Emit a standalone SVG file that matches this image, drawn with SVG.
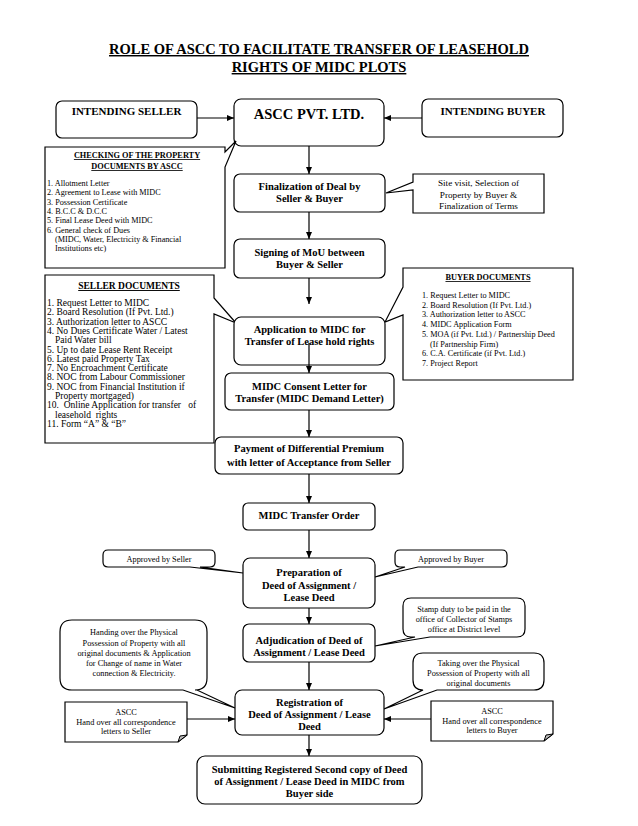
<svg xmlns="http://www.w3.org/2000/svg" width="638" height="826" viewBox="0 0 638 826">
<defs>
<marker id="ah" markerUnits="userSpaceOnUse" markerWidth="8" markerHeight="7" refX="7" refY="3" orient="auto"><path d="M0,0 L7,3 L0,6 Z" fill="#000"/></marker>
</defs>
<style>
.bx{fill:#fff;stroke:#000;stroke-width:1.2}
.ln{stroke:#000;stroke-width:1.2;fill:none}
.ar{stroke:#000;stroke-width:1.2;fill:none;marker-end:url(#ah)}
text{font-family:"Liberation Serif","Times New Roman",serif;fill:#000}
.t{font-size:14.5px;font-weight:bold;text-anchor:middle;text-decoration:underline}
.m{font-size:10.5px;font-weight:bold;text-anchor:middle}
.h{font-size:11px;font-weight:bold;text-anchor:middle}
.c{font-size:8.3px;text-anchor:middle}
.l{font-size:8.2px}
.ls{font-size:9.5px}
.hd{font-size:8.3px;font-weight:bold;text-anchor:middle;text-decoration:underline}
.fold{fill:#bbb;stroke:#000;stroke-width:1}
</style>
<rect width="638" height="826" fill="#fff"/>
<g id="title">
<text class="t" x="319" y="54">ROLE OF ASCC TO FACILITATE TRANSFER OF LEASEHOLD</text>
<text class="t" x="319" y="72">RIGHTS OF MIDC PLOTS</text>
</g>
<g id="connectors">
<line class="ar" x1="197" y1="118" x2="234" y2="118"/>
<line class="ar" x1="422" y1="118" x2="384" y2="118"/>
<line class="ar" x1="309" y1="146" x2="309" y2="174"/>
<line class="ar" x1="309" y1="212" x2="309" y2="239"/>
<line class="ar" x1="309" y1="278" x2="309" y2="304"/>
<line class="ar" x1="309" y1="410" x2="309" y2="437"/>
<line class="ar" x1="309" y1="474" x2="309" y2="503"/>
<line class="ar" x1="309" y1="530" x2="309" y2="558"/>
<line class="ar" x1="309" y1="608" x2="309" y2="624"/>
<line class="ar" x1="309" y1="662" x2="309" y2="690"/>
<line class="ar" x1="187" y1="719" x2="235" y2="719"/>
<line class="ar" x1="431" y1="719" x2="384" y2="719"/>
<line class="ar" x1="309" y1="735" x2="309" y2="756"/>
</g>
<g id="intending-seller">
<rect class="bx" x="56" y="101" width="141" height="37" rx="6"/>
<text class="h" x="126.5" y="115">INTENDING SELLER</text>
</g>
<g id="ascc">
<rect class="bx" x="234" y="99" width="150" height="47" rx="7"/>
<text class="m" x="309" y="119" style="font-size:14.5px">ASCC PVT. LTD.</text>
</g>
<g id="intending-buyer">
<rect class="bx" x="422" y="99" width="141" height="38" rx="6"/>
<text class="h" x="493" y="115">INTENDING BUYER</text>
</g>
<g id="checking">
<path class="bx" d="M45,147 H225 V152 L236,141 L225,167 V268 H45 Z"/>
<text class="hd" x="137" y="158">CHECKING OF THE PROPERTY</text>
<text class="hd" x="137" y="169">DOCUMENTS BY ASCC</text>
<g class="l">
<text x="47" y="186">1. Allotment Letter</text>
<text x="47" y="195.3">2. Agreement to Lease with MIDC</text>
<text x="47" y="204.6">3. Possession Certificate</text>
<text x="47" y="213.9">4. B.C.C &amp; D.C.C</text>
<text x="47" y="223.2">5. Final Lease Deed with MIDC</text>
<text x="47" y="232.5">6. General check of Dues</text>
<text x="55" y="241.8">(MIDC, Water, Electricity &amp; Financial</text>
<text x="55" y="251.1">Institutions etc)</text>
</g>
</g>
<g id="finalization">
<rect class="bx" x="234" y="174" width="151" height="38" rx="6"/>
<text class="m" x="309.5" y="190">Finalization of Deal by</text>
<text class="m" x="309.5" y="202">Seller &amp; Buyer</text>
</g>
<g id="site-visit">
<path class="bx" d="M413,174 H544 V213 H413 V190 L386,193 L413,182 Z"/>
<text class="c" x="478.5" y="186" style="font-size:9.2px">Site visit, Selection of</text>
<text class="c" x="478.5" y="197.5" style="font-size:9.2px">Property by Buyer &amp;</text>
<text class="c" x="478.5" y="209" style="font-size:9.2px">Finalization of Terms</text>
</g>
<g id="signing">
<rect class="bx" x="234" y="239" width="151" height="39" rx="6"/>
<text class="m" x="309.5" y="256">Signing of MoU between</text>
<text class="m" x="309.5" y="267.5">Buyer &amp; Seller</text>
</g>
<g id="seller-documents">
<path class="bx" d="M45,275 H214 V298 L236,323 L214,314 V443 H45 Z"/>
<text class="hd" x="129" y="289" style="font-size:9.5px">SELLER DOCUMENTS</text>
<g class="ls">
<text x="47" y="306">1. Request Letter to MIDC</text>
<text x="47" y="315.3">2. Board Resolution (If Pvt. Ltd.)</text>
<text x="47" y="324.6">3. Authorization letter to ASCC</text>
<text x="47" y="333.9">4. No Dues Certificate Water / Latest</text>
<text x="55" y="343.2">Paid Water bill</text>
<text x="47" y="352.5">5. Up to date Lease Rent Receipt</text>
<text x="47" y="361.8">6. Latest paid Property Tax</text>
<text x="47" y="371.1">7. No Encroachment Certificate</text>
<text x="47" y="380.4">8. NOC from Labour Commissioner</text>
<text x="47" y="389.7">9. NOC from Financial Institution if</text>
<text x="55" y="399">Property mortgaged)</text>
<text x="47" y="408.3" xml:space="preserve">10.  Online Application for transfer   of</text>
<text x="55" y="417.6" xml:space="preserve">leasehold  rights</text>
<text x="47" y="426.9">11.  Form “A” &amp; “B”</text>
</g>
</g>
<g id="buyer-documents">
<path class="bx" d="M403,268 H573 V380 H403 V315 L385,322 L403,287 Z"/>
<text class="hd" x="488" y="280">BUYER DOCUMENTS</text>
<g class="l">
<text x="422" y="298">1. Request Letter to MIDC</text>
<text x="422" y="307.7">2. Board Resolution (If Pvt. Ltd.)</text>
<text x="422" y="317.4">3. Authorization letter to ASCC</text>
<text x="422" y="327.1">4. MIDC Application Form</text>
<text x="422" y="336.8">5. MOA (if Pvt. Ltd.) / Partnership Deed</text>
<text x="430" y="346.5">(If Partnership Firm)</text>
<text x="422" y="356.2">6. C.A. Certificate (if Pvt. Ltd.)</text>
<text x="422" y="365.9">7. Project Report</text>
</g>
</g>
<g id="application">
<rect class="bx" x="234" y="317" width="151" height="48" rx="7"/>
<text class="m" x="309.5" y="333">Application to MIDC for</text>
<text class="m" x="309.5" y="345">Transfer of Lease hold rights</text>
<line class="ar" x1="309" y1="343" x2="309" y2="373"/>
</g>
<g id="consent">
<rect class="bx" x="225" y="373" width="169" height="37" rx="6"/>
<text class="m" x="309.5" y="390">MIDC Consent Letter for</text>
<text class="m" x="309.5" y="401.5">Transfer (MIDC Demand Letter)</text>
</g>
<g id="payment">
<rect class="bx" x="215" y="437" width="188" height="37" rx="6"/>
<text class="m" x="309" y="452">Payment of Differential Premium</text>
<text class="m" x="309" y="466">with letter of Acceptance from Seller</text>
</g>
<g id="transfer-order">
<rect class="bx" x="243" y="503" width="132" height="27" rx="5"/>
<text class="m" x="309" y="519">MIDC Transfer Order</text>
</g>
<g id="approved-seller">
<path class="bx" d="M108,550 H210 Q215,550 215,555 V562 Q215,567 210,567 H200 L243,573 L190,567 H108 Q103,567 103,562 V555 Q103,550 108,550 Z"/>
<text class="c" x="159" y="562">Approved by Seller</text>
</g>
<g id="approved-buyer">
<path class="bx" d="M400,550 H502 Q507,550 507,555 V562 Q507,567 502,567 H418 L375,577 L405,567 H400 Q395,567 395,562 V555 Q395,550 400,550 Z"/>
<text class="c" x="451" y="562">Approved by Buyer</text>
</g>
<g id="preparation">
<rect class="bx" x="243" y="558" width="132" height="50" rx="7"/>
<text class="m" x="309" y="576">Preparation of</text>
<text class="m" x="309" y="589">Deed of Assignment /</text>
<text class="m" x="309" y="601">Lease Deed</text>
</g>
<g id="stamp-duty">
<path class="bx" d="M411,598 H517 Q525,598 525,606 V629 Q525,637 517,637 H430 L375,646 L415,637 H411 Q403,637 403,629 V606 Q403,598 411,598 Z"/>
<text class="c" x="464" y="612">Stamp duty to be paid in the</text>
<text class="c" x="464" y="622">office of Collector of Stamps</text>
<text class="c" x="464" y="631.5">office at District level</text>
</g>
<g id="adjudication">
<rect class="bx" x="243" y="624" width="132" height="38" rx="6"/>
<text class="m" x="309" y="644">Adjudication of Deed of</text>
<text class="m" x="309" y="656">Assignment / Lease Deed</text>
</g>
<g id="handing-over">
<path class="bx" d="M72,620 H195 Q207,620 207,632 V678 Q207,690 195,690 H197 L235,708 L183,690 H72 Q60,690 60,678 V632 Q60,620 72,620 Z"/>
<text class="c" x="134" y="635">Handing over the Physical</text>
<text class="c" x="134" y="645.5">Possession of Property with all</text>
<text class="c" x="134" y="656">original documents &amp; Application</text>
<text class="c" x="134" y="666">for Change of name in Water</text>
<text class="c" x="134" y="676">connection &amp; Electricity.</text>
</g>
<g id="taking-over">
<path class="bx" d="M423,653 H534 Q544,653 544,663 V680 Q544,690 534,690 H437 L384,709 L423,690 Q413,690 413,680 V663 Q413,653 423,653 Z"/>
<text class="c" x="478.5" y="666">Taking over the Physical</text>
<text class="c" x="478.5" y="676">Possession of Property with all</text>
<text class="c" x="478.5" y="686">original documents</text>
</g>
<g id="registration">
<rect class="bx" x="235" y="690" width="149" height="45" rx="7"/>
<text class="m" x="309.5" y="705.5">Registration of</text>
<text class="m" x="309.5" y="718">Deed of Assignment / Lease</text>
<text class="m" x="309.5" y="730">Deed</text>
</g>
<g id="ascc-seller">
<path class="bx" d="M65,702 H187 V735 L178,742 H65 Z"/>
<path class="fold" d="M178,742 L180,736 L187,735 Z"/>
<text class="c" x="126" y="715">ASCC</text>
<text class="c" x="126" y="724.5">Hand over all correspondence</text>
<text class="c" x="126" y="734">letters to Seller</text>
</g>
<g id="ascc-buyer">
<path class="bx" d="M431,701 H553 V734 L544,741 H431 Z"/>
<path class="fold" d="M544,741 L546,735 L553,734 Z"/>
<text class="c" x="492" y="714">ASCC</text>
<text class="c" x="492" y="724">Hand over all correspondence</text>
<text class="c" x="492" y="733">letters to Buyer</text>
</g>
<g id="submitting">
<rect class="bx" x="197" y="756" width="225" height="48" rx="8"/>
<text class="m" x="309.5" y="773">Submitting Registered Second copy of Deed</text>
<text class="m" x="309.5" y="785">of Assignment / Lease Deed in MIDC from</text>
<text class="m" x="309.5" y="797">Buyer side</text>
</g>
</svg>
